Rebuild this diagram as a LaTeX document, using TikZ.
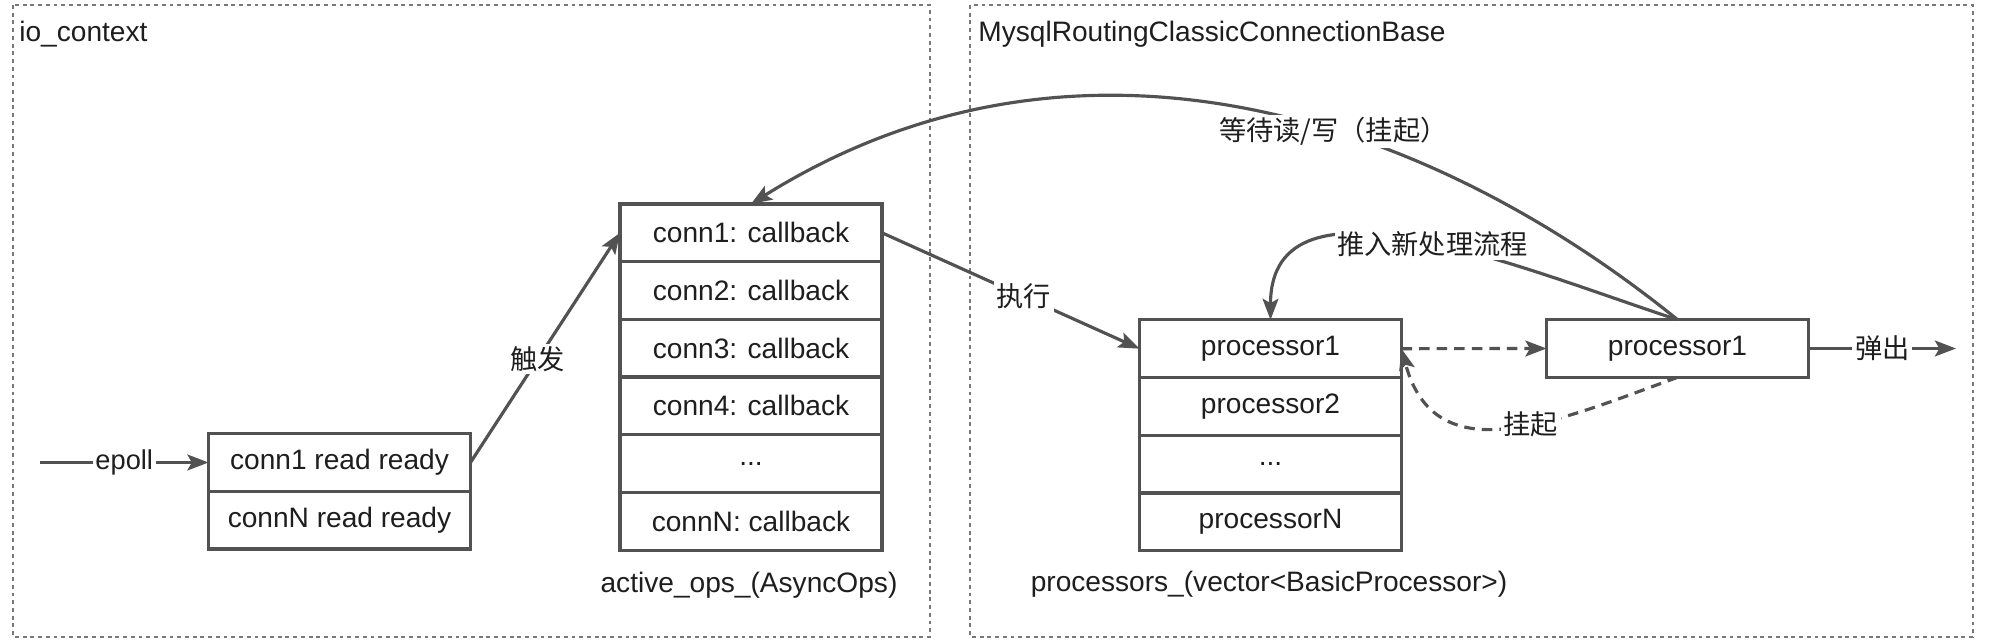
\documentclass[tikz,border=0pt]{standalone}
\usepackage{fontspec}
\setmainfont{Liberation Sans}
\newfontfamily\cjk{Noto Sans CJK SC}
\usetikzlibrary{arrows.meta,positioning}
\definecolor{linegray}{RGB}{82,82,82}
\definecolor{framegray}{RGB}{120,120,120}
\definecolor{textgray}{RGB}{30,30,30}

\begin{document}
\begin{tikzpicture}[x=0.02cm,y=0.02cm,
    cell/.style={draw=linegray, line width=1.8pt, fill=white, minimum width=5.24cm,
      minimum height=1.154cm, inner sep=0pt, outer sep=0pt, text=textgray,
      font=\fontsize{16}{19}\selectfont},
    frame/.style={draw=framegray, line width=0.7pt, dash pattern=on 2.2pt off 2.2pt},
    link/.style={draw=linegray, line width=1.8pt, -{Stealth[length=12pt,width=9pt,inset=2.5pt]}},
    tag/.style={fill=white, inner sep=1.5pt, text=textgray, font=\fontsize{15.5}{18}\selectfont},
    title/.style={inner sep=0pt, text=textgray, font=\fontsize{16}{19}\selectfont}]
    \useasboundingbox (0,0) rectangle (1991,642);

    % two frames
    \draw[frame] (13,637) rectangle (930,5);
    \draw[frame] (970,637) rectangle (1973,5);

    % io_context side
    \node[title, anchor=west] (io) at (19,608) {io\_context};
    \node[cell] (rd1) at (339.5,179.5) {conn1 read ready};
    \node[cell, below=0pt of rd1] (rdN) {connN read ready};

    \node[cell] (cb1) at (751,409.2) {conn1: callback};
    \node[cell, below=0pt of cb1] (cb2) {conn2: callback};
    \node[cell, below=0pt of cb2] (cb3) {conn3: callback};
    \node[cell, below=0pt of cb3] (cb4) {conn4: callback};
    \node[cell, below=0pt of cb4] (cbd) {...};
    \node[cell, below=0pt of cbd] (cbN) {connN: callback};
    \node[title] (ops) at (749,57) {active\_ops\_(AsyncOps)};

    % connection side
    \node[title, anchor=west] (base) at (978,608) {MysqlRoutingClassicConnectionBase};
    \node[cell] (p1) at (1270.5,293.3) {processor1};
    \node[cell, below=0pt of p1] (p2) {processor2};
    \node[cell, below=0pt of p2] (pd) {...};
    \node[cell, below=0pt of pd] (pN) {processorN};
    \node[title] (procs) at (1269,58) {processors\_(vector<BasicProcessor>)};
    \node[cell] (top) at (1677.5,293.5) {processor1};

    % connectors
    \coordinate (src) at (40,179.5);
    \coordinate (sink) at (1956,293.5);
    \draw[link] (src) -- node[tag]{epoll} (rd1.west);
    \draw[link] (rd1.east) -- node[tag, pos=0.45]{{\cjk 触发}} (cb1.west);
    \draw[link] (cb1.east) -- node[tag, pos=0.55]{{\cjk 执行}} (p1.west);
    \draw[link] (top.north) to[out=141, in=32, out distance=6.6cm, in distance=7.6cm]
        node[tag, pos=0.4]{{\cjk 等待读/写（挂起）}} (cb1.north);
    \draw[link] (top.north) to[out=162, in=90]
        node[tag, pos=0.47]{{\cjk 推入新处理流程}} (p1.north);
    \draw[link, dash pattern=on 6pt off 4pt] (p1.east) -- (top.west);
    \draw[link, dash pattern=on 6pt off 4pt] (top.south) to[out=200, in=-75, looseness=1.2]
        node[tag, pos=0.42]{{\cjk 挂起}} (p1.east);
    \draw[link] (top.east) -- node[tag]{{\cjk 弹出}} (sink);
\end{tikzpicture}
\end{document}
